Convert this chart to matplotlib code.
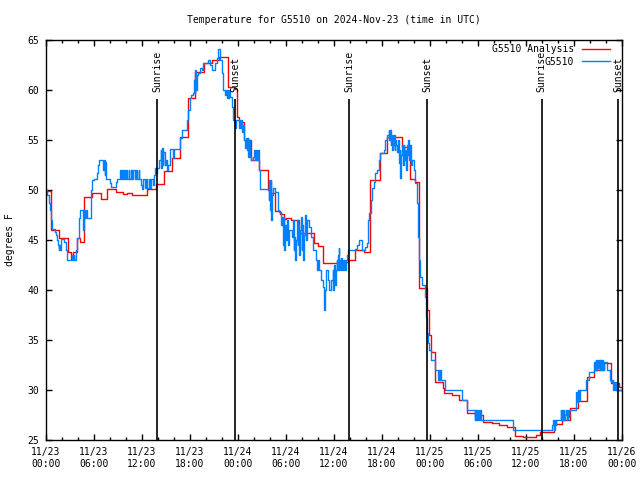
import numpy as np
import matplotlib
matplotlib.use("Agg")
import matplotlib.pyplot as plt
import matplotlib.dates as mdates
from datetime import datetime

plt.rcParams['font.family'] = ['DejaVu Sans Mono']
plt.rcParams['font.size'] = 7

title = "Temperature for G5510 on 2024-Nov-23 (time in UTC)"
start = datetime(2024, 11, 23, 0, 0)
end = datetime(2024, 11, 26, 0, 0)

# Analysis (red) step series: hours since start, temperature (F)
anl_hours = [0.00, 0.67, 1.67, 2.80, 3.08, 3.42, 3.83, 4.20, 4.79, 5.79,
             6.83, 7.67, 8.70, 9.67, 10.17, 10.79, 12.67, 13.70, 14.70, 15.70,
             16.75, 17.80, 18.67, 19.70, 20.70, 21.60, 22.70, 23.60, 23.85, 24.10,
             24.70, 25.60, 26.67, 27.70, 27.95, 28.67, 29.30, 29.70, 30.00, 30.60,
             31.67, 33.54, 33.96, 34.60, 36.50, 37.80, 38.60, 39.70, 40.54, 41.70,
             42.60, 44.50, 45.55, 46.10, 46.67, 47.60, 47.85, 48.10, 48.67, 49.60,
             49.70, 50.70, 51.60, 52.67, 53.60, 54.60, 55.70, 56.60, 57.60, 58.60,
             59.60, 61.20, 61.80, 63.50, 64.50, 65.50, 66.50, 67.60, 68.50, 69.70,
             70.67, 71.60, 72.00]
anl_temps = [49.9, 46.0, 45.2, 43.8, 43.1, 43.8, 45.2, 44.8, 49.3, 49.7,
             49.1, 50.1, 49.8, 49.6, 49.7, 49.5, 50.1, 50.6, 51.9, 53.2,
             55.3, 59.2, 61.8, 62.7, 63.0, 63.3, 60.3, 60.1, 57.3, 56.8,
             55.0, 53.0, 52.0, 50.0, 49.7, 47.9, 47.6, 47.1, 47.2, 47.0,
             45.7, 44.7, 44.4, 42.7, 42.8, 43.0, 44.0, 43.8, 51.0, 53.7,
             55.3, 54.3, 51.1, 50.8, 40.2, 38.0, 35.5, 33.8, 30.8, 30.2,
             29.7, 29.5, 29.0, 27.7, 27.5, 26.8, 26.7, 26.5, 26.3, 25.4,
             25.3, 25.5, 25.8, 26.6, 27.0, 28.2, 28.9, 31.3, 32.0, 32.7,
             30.7, 30.3, 30.3]

# Observations (blue) step series
obs_hours = [0.00, 0.17, 0.33, 0.50, 0.67, 0.80, 1.13, 1.25, 1.33, 1.50,
             1.58, 1.67, 1.75, 1.83, 1.92, 2.25, 2.46, 2.67, 3.29, 3.37,
             3.46, 3.54, 3.79, 3.92, 4.08, 4.25, 4.67, 4.75, 4.83, 5.00,
             5.08, 5.58, 5.67, 5.79, 6.00, 6.42, 6.54, 6.62, 7.17, 7.25,
             7.33, 7.42, 7.50, 8.00, 8.17, 8.70, 8.83, 9.25, 9.33, 9.50,
             9.58, 9.75, 9.83, 10.00, 10.17, 10.33, 10.42, 10.58, 10.75, 10.92,
             11.08, 11.25, 11.42, 11.58, 11.67, 11.83, 12.00, 12.17, 12.33, 12.50,
             12.67, 12.83, 13.00, 13.17, 13.33, 13.50, 13.60, 13.75, 13.90, 14.00,
             14.17, 14.33, 14.42, 14.50, 14.58, 14.67, 14.83, 15.00, 15.08, 15.29,
             15.50, 15.92, 16.00, 16.75, 16.96, 17.58, 17.79, 18.00, 18.17, 18.42,
             18.50, 18.58, 18.67, 18.75, 18.83, 19.04, 19.25, 19.50, 19.67, 20.29,
             20.50, 20.71, 21.12, 21.33, 21.54, 21.75, 21.96, 22.08, 22.38, 22.50,
             22.58, 22.70, 22.79, 22.90, 23.00, 23.20, 23.40, 23.62, 23.75, 24.08,
             24.17, 24.25, 24.33, 24.42, 24.50, 24.60, 24.79, 24.92, 25.00, 25.10,
             25.21, 25.30, 25.40, 25.50, 25.62, 25.83, 26.04, 26.15, 26.25, 26.35,
             26.45, 26.58, 26.75, 27.83, 27.92, 28.00, 28.08, 28.17, 28.25, 28.33,
             28.67, 28.96, 29.17, 29.38, 29.50, 29.60, 29.70, 29.80, 29.90, 30.00,
             30.10, 30.20, 30.30, 30.40, 30.75, 30.85, 30.95, 31.04, 31.15, 31.25,
             31.35, 31.45, 31.55, 31.65, 31.75, 31.85, 31.95, 32.05, 32.15, 32.25,
             32.40, 32.50, 32.60, 32.92, 33.12, 33.33, 33.75, 33.83, 34.00, 34.08,
             34.38, 34.67, 34.79, 34.92, 35.00, 35.21, 35.42, 35.62, 35.83, 35.92,
             36.00, 36.08, 36.20, 36.33, 36.42, 36.50, 36.58, 36.67, 36.75, 36.83,
             36.92, 37.00, 37.10, 37.20, 37.30, 37.40, 37.50, 37.60, 37.70, 38.67,
             38.83, 39.08, 39.50, 39.92, 40.12, 40.25, 40.42, 40.67, 40.75, 40.96,
             41.17, 41.38, 41.58, 41.79, 42.21, 42.42, 42.62, 42.83, 42.92, 43.00,
             43.08, 43.17, 43.25, 43.33, 43.42, 43.50, 43.58, 43.67, 43.75, 43.88,
             44.00, 44.08, 44.20, 44.29, 44.40, 44.50, 44.60, 44.70, 44.80, 44.90,
             45.00, 45.10, 45.20, 45.30, 45.40, 45.50, 45.60, 45.75, 45.96, 46.17,
             46.38, 46.50, 46.67, 46.79, 47.00, 47.33, 47.50, 47.62, 47.75, 47.88,
             48.08, 48.17, 48.58, 48.67, 49.00, 49.08, 49.17, 49.25, 49.33, 49.92,
             52.04, 52.67, 53.58, 53.67, 53.75, 53.83, 53.92, 54.00, 54.10, 54.20,
             54.42, 58.38, 63.30, 63.40, 63.50, 63.60, 63.70, 63.80, 64.33, 64.42,
             64.50, 64.60, 64.70, 64.80, 64.90, 65.00, 65.10, 65.20, 65.30, 65.40,
             66.20, 66.30, 66.40, 66.50, 66.60, 66.70, 67.46, 67.88, 68.50, 68.60,
             68.70, 68.80, 68.90, 69.00, 69.10, 69.20, 69.30, 69.40, 69.50, 69.60,
             69.75, 70.17, 70.50, 70.60, 70.80, 70.90, 71.00, 71.10, 71.20, 71.25,
             72.00]
obs_temps = [50.0, 49.5, 48.7, 48.0, 47.0, 46.1, 45.8, 45.5, 45.0, 44.5,
             44.0, 44.5, 44.0, 44.5, 45.1, 44.8, 44.0, 43.0, 43.5, 43.0,
             43.5, 43.0, 44.0, 45.2, 47.2, 48.0, 46.0, 48.0, 47.2, 48.0,
             47.2, 48.5, 50.0, 51.0, 51.1, 51.7, 52.5, 53.0, 52.0, 53.0,
             51.5, 52.8, 51.1, 50.7, 50.3, 50.8, 51.1, 52.0, 51.1, 52.0,
             51.1, 52.0, 51.1, 52.0, 51.1, 52.0, 51.1, 52.0, 51.1, 52.0,
             51.1, 52.0, 51.1, 52.0, 51.1, 50.5, 50.1, 51.1, 50.2, 51.1,
             50.2, 51.1, 50.2, 51.1, 50.5, 51.5, 52.2, 51.7, 52.2, 52.2,
             53.0, 54.0, 52.2, 54.2, 52.5, 53.8, 52.5, 53.0, 52.0, 52.5,
             54.1, 53.2, 54.1, 55.2, 56.0, 57.0, 58.0, 59.2, 59.5, 59.7,
             61.0, 59.7, 62.0, 60.0, 61.5, 61.7, 62.2, 62.0, 62.7, 63.0,
             62.5, 62.0, 62.7, 63.2, 64.1, 63.0, 61.7, 60.0, 59.5, 60.0,
             59.2, 60.0, 59.2, 60.0, 59.3, 58.3, 57.0, 56.2, 57.0, 56.7,
             56.2, 57.0, 56.2, 57.0, 55.8, 56.5, 55.0, 54.2, 55.2, 54.0,
             55.2, 53.3, 55.0, 53.3, 53.0, 53.3, 54.0, 53.0, 54.0, 53.0,
             54.0, 52.0, 50.1, 49.0, 51.0, 48.0, 51.0, 47.0, 49.5, 50.2,
             49.8, 48.0, 47.8, 46.5, 47.3, 44.5, 47.3, 44.0, 46.5, 45.0,
             47.0, 45.5, 44.5, 46.0, 45.3, 47.0, 44.0, 45.3, 43.0, 45.0,
             47.0, 44.5, 46.5, 43.5, 46.0, 47.3, 44.0, 46.5, 43.0, 45.5,
             47.5, 45.0, 47.0, 46.3, 45.3, 44.0, 43.0, 42.0, 43.0, 42.0,
             41.0, 40.3, 38.0, 40.0, 42.0, 41.0, 40.0, 41.0, 42.0, 40.0,
             42.5, 40.5, 42.0, 43.0, 42.0, 43.5, 44.2, 42.0, 43.0, 42.0,
             43.2, 42.0, 43.0, 42.0, 43.0, 42.0, 43.0, 43.5, 44.0, 44.1,
             44.5, 45.0, 44.0, 44.3, 44.7, 47.0, 47.7, 49.0, 50.2, 50.8,
             51.7, 52.0, 53.0, 53.7, 54.0, 55.0, 55.5, 56.0, 55.0, 56.0,
             54.5, 55.5, 54.0, 55.5, 54.5, 55.5, 54.0, 55.0, 54.5, 53.8,
             55.0, 52.7, 54.0, 51.2, 53.5, 54.5, 52.5, 54.5, 53.0, 54.0,
             52.0, 54.5, 53.5, 55.0, 53.0, 54.5, 52.5, 53.0, 52.0, 50.7,
             48.7, 45.3, 43.0, 41.3, 40.5, 39.3, 37.3, 35.7, 34.7, 34.0,
             33.5, 33.0, 32.5, 32.0, 31.0, 32.0, 31.0, 32.0, 31.0, 30.0,
             29.0, 28.0, 27.0, 28.0, 27.0, 28.0, 27.0, 28.0, 27.0, 28.0,
             27.0, 26.0, 26.5, 27.0, 26.0, 27.0, 26.5, 27.0, 28.0, 27.0,
             28.0, 27.0, 28.0, 27.0, 27.5, 28.0, 27.0, 28.0, 27.3, 28.0,
             28.8, 29.8, 28.8, 30.0, 29.0, 30.0, 31.0, 31.8, 32.8, 32.0,
             33.0, 32.0, 33.0, 32.2, 33.0, 32.0, 33.0, 32.0, 33.0, 32.0,
             32.8, 32.0, 31.0, 30.8, 31.0, 30.0, 30.8, 30.0, 30.8, 30.0,
             30.0]

sun_labels = ["Sunrise", "Sunset", "Sunrise", "Sunset", "Sunrise", "Sunset"]
sun_hours = [13.92, 23.62, 37.93, 47.60, 61.95, 71.55]

series_labels = ["G5510 Analysis", "G5510"]
series_colors = ["#ff0000", "#0080ff"]

yticks = [25, 30, 35, 40, 45, 50, 55, 60, 65]

base = mdates.date2num(start)
def to_x(hours):
    return base + np.asarray(hours, dtype=float) / 24.0

fig = plt.figure(figsize=(6.4, 4.8), dpi=100)
ax = fig.add_axes([46 / 640, 40 / 480, 576 / 640, 400 / 480])

ax.step(to_x(anl_hours), anl_temps, where='post', color=series_colors[0],
        lw=1.0, label=series_labels[0])
ax.step(to_x(obs_hours), obs_temps, where='post', color=series_colors[1],
        lw=1.0, label=series_labels[1])

ax.vlines(to_x(sun_hours), 25, 59.1, color='black', lw=1.2)
for lab, h in zip(sun_labels, sun_hours):
    ax.text(to_x(h) + 0.0008, 59.8, lab, rotation=90, ha='center', va='bottom',
            fontsize=7)

ax.set_xlim(mdates.date2num(start), mdates.date2num(end))
ax.set_ylim(25, 65)
ax.set_yticks(yticks)
ax.xaxis.set_major_locator(mdates.HourLocator(byhour=[0, 6, 12, 18]))
ax.xaxis.set_minor_locator(mdates.HourLocator(byhour=list(range(0, 24, 2))))
ax.xaxis.set_major_formatter(mdates.DateFormatter('%m/%d\n%H:%M'))
ax.tick_params(which='both', direction='in', top=True, right=True, width=1.0)
ax.tick_params(which='major', length=4.5)
ax.tick_params(which='minor', length=2.5)
ax.tick_params(axis='y', pad=5)
ax.tick_params(axis='x', pad=5)
for s in ax.spines.values():
    s.set_linewidth(1.0)

ax.legend(loc='upper right', bbox_to_anchor=(0.979, 0.989), frameon=False,
          markerfirst=False, handlelength=2.9, handletextpad=0.8,
          borderpad=0, borderaxespad=0, labelspacing=0.25, fontsize=7)

fig.text(334 / 640, 1 - 20 / 480, title, ha='center', va='center', fontsize=7)
fig.text(10 / 640, 0.5, "degrees F", rotation=90, ha='center', va='center',
         fontsize=7)

fig.savefig("out.png", dpi=100)
